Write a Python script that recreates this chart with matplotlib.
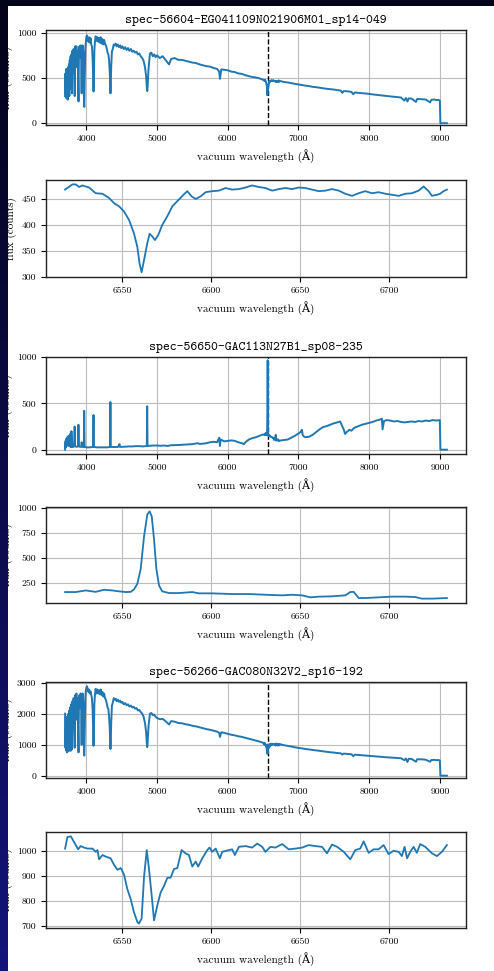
import numpy as np
import matplotlib
matplotlib.use('Agg')
import matplotlib.pyplot as plt

# ---------------- data ----------------
titles = ['spec-56604-EG041109N021906M01_sp14-049',
          'spec-56650-GAC113N27B1_sp08-235',
          'spec-56266-GAC080N32V2_sp16-192']
halpha = 6563.0

# shared wavelength grids for the two absorption-line stars (blue / red parts)
lam_blue = [3700, 3705, 3712, 3718, 3724, 3730, 3736, 3742, 3748, 3754, 3760, 3766, 3772, 3778, 3784,
            3790, 3797, 3804, 3812, 3820, 3828, 3836, 3844, 3852, 3860, 3868, 3876, 3884, 3890, 3896,
            3904, 3912, 3920, 3928, 3934, 3940, 3948, 3956, 3962, 3968, 3972, 3978, 3986, 3994, 4002,
            4010, 4020, 4030, 4040, 4050, 4060, 4070, 4080, 4090, 4096, 4102, 4108, 4114, 4122, 4132,
            4144, 4156, 4168, 4180, 4192, 4204, 4216, 4228, 4240, 4252, 4264, 4276, 4288, 4300, 4312,
            4322, 4332, 4338, 4342, 4346, 4352, 4362, 4374, 4388, 4402, 4416, 4430, 4446, 4462, 4478,
            4494, 4510, 4530, 4550, 4570, 4590, 4610, 4630, 4650, 4670, 4690, 4710, 4730, 4750, 4770,
            4790, 4810, 4830, 4846, 4856, 4862, 4868, 4880, 4900, 4920, 4940, 4960, 4980, 5000, 5040,
            5080, 5120, 5170, 5200, 5250, 5300, 5350, 5400, 5450, 5500, 5550, 5600, 5650, 5700, 5750,
            5800, 5850, 5880, 5890, 5896, 5910, 5950, 6000, 6050, 6100, 6150, 6200, 6250, 6300, 6350,
            6400, 6450, 6500]
lam_red = [6760, 6800, 6850, 6900, 6950, 7000, 7050, 7100, 7150, 7200, 7250, 7300, 7350, 7400, 7450,
           7500, 7550, 7600, 7620, 7640, 7700, 7750, 7775, 7800, 7850, 7900, 7950, 8000, 8050, 8100,
           8150, 8200, 8250, 8300, 8350, 8400, 8450, 8498, 8520, 8542, 8560, 8600, 8662, 8680, 8750,
           8800, 8862, 8880, 8920, 8950, 8980, 9000, 9008, 9050, 9100]

# star 1
flux1_blue = [300, 550, 280, 600, 320, 500, 260, 620, 350, 650, 300, 700, 380, 740, 400,
              760, 330, 800, 560, 820, 600, 300, 850, 700, 850, 620, 800, 500, 240, 780,
              850, 720, 860, 700, 330, 820, 860, 800, 700, 200, 180, 500, 820, 900, 960,
              970, 940, 900, 950, 890, 940, 870, 850, 700, 500, 350, 520, 800, 900, 960,
              910, 950, 900, 940, 890, 950, 880, 930, 870, 920, 880, 860, 830, 780, 760,
              700, 560, 400, 330, 420, 620, 790, 820, 870, 860, 880, 850, 870, 840, 860,
              830, 850, 820, 840, 810, 830, 800, 820, 790, 800, 780, 790, 760, 770, 740,
              720, 690, 620, 520, 400, 355, 420, 600, 770, 780, 740, 760, 730, 750, 720,
              740, 700, 650, 710, 720, 700, 700, 690, 680, 670, 665, 650, 640, 630, 625,
              610, 600, 570, 490, 520, 595, 590, 585, 570, 565, 550, 545, 530, 520, 510,
              505, 495, 480]
lam2 = [6517.8, 6521.9, 6523.8, 6525.7, 6527.5, 6531.3, 6535.0, 6538.8, 6542.5, 6545.3, 6548.1,
        6550.9, 6553.7, 6556.5, 6558.4, 6559.7, 6560.8, 6562.2, 6564.0, 6565.3, 6566.8, 6568.3,
        6570.2, 6572.4, 6575.3, 6578.1, 6581.8, 6584.6, 6586.5, 6588.9, 6591.2, 6594.0, 6596.8,
        6600.5, 6604.2, 6608.0, 6611.7, 6615.5, 6619.2, 6622.9, 6626.7, 6630.4, 6634.2, 6637.9,
        6641.7, 6645.4, 6649.1, 6652.9, 6656.6, 6660.4, 6664.1, 6667.8, 6671.6, 6675.3, 6679.1,
        6682.8, 6686.5, 6690.3, 6694.0, 6697.8, 6701.5, 6705.3, 6709.0, 6712.7, 6716.5, 6719.3,
        6722.1, 6724.0, 6726.8, 6728.6, 6730.5, 6732.4]
flux2 = [468, 478, 478, 473, 476, 472, 461, 460, 452, 442, 436,
         426, 410, 384, 358, 325, 309, 333, 365, 383, 378, 371,
         381, 400, 417, 436, 449, 459, 465, 455, 450, 455, 463,
         465, 466, 471, 468, 469, 472, 476, 473, 471, 466, 469,
         471, 469, 472, 471, 468, 465, 466, 469, 466, 460, 456,
         461, 465, 461, 463, 460, 458, 456, 460, 461, 466, 474,
         465, 456, 458, 460, 465, 468]
flux1_red = [462, 455, 450, 442, 435, 428, 422, 415, 410, 402, 398, 392, 386, 380, 376,
             372, 366, 360, 335, 355, 352, 346, 320, 340, 335, 332, 328, 324, 318, 314,
             310, 305, 300, 296, 292, 288, 284, 250, 278, 240, 274, 272, 235, 268, 265,
             262, 230, 258, 262, 255, 258, 250, 0, 0, 0]

# star 2 (emission-line object)
lam3_blue = [3700, 3703, 3706, 3709, 3712, 3715, 3718, 3721, 3724, 3727, 3730, 3734, 3738, 3742, 3746,
             3750, 3754, 3760, 3765, 3771, 3776, 3780, 3785, 3790, 3795, 3798, 3802, 3812, 3820, 3830,
             3835, 3840, 3860, 3884, 3889, 3895, 3910, 3930, 3934, 3940, 3960, 3966, 3970, 3976, 4000,
             4050, 4095, 4102, 4108, 4150, 4200, 4250, 4300, 4336, 4341, 4346, 4400, 4450, 4470, 4475,
             4550, 4600, 4650, 4700, 4750, 4800, 4856, 4861, 4866, 4900, 4950, 5000, 5050, 5100, 5150,
             5200, 5300, 5400, 5500, 5580, 5600, 5650, 5700, 5750, 5800, 5850, 5880, 5890, 5900, 5950,
             6000, 6050, 6100, 6150, 6200, 6230, 6250, 6300, 6350, 6400, 6450, 6500]
flux3_blue = [0, 80, 20, 100, 30, 110, 40, 120, 40, 130, 50, 135, 50, 140, 50,
              150, 40, 130, 40, 170, 30, 120, 30, 200, 30, 130, 30, 60, 30, 40,
              250, 40, 30, 35, 270, 40, 30, 35, 80, 30, 30, 35, 420, 30, 25,
              25, 30, 375, 30, 25, 25, 25, 25, 30, 515, 30, 28, 30, 60, 30,
              32, 35, 35, 38, 38, 35, 40, 470, 40, 42, 45, 45, 42, 45, 40,
              48, 50, 55, 60, 70, 62, 65, 70, 80, 85, 80, 130, 40, 110, 90,
              95, 100, 95, 80, 70, 60, 80, 110, 125, 135, 150, 165]
lam4 = [6517.8, 6523.8, 6529.4, 6535.0, 6539.7, 6544.4, 6548.1, 6551.9, 6554.7, 6556.5, 6558.4,
        6560.3, 6562.2, 6564.0, 6565.3, 6566.5, 6567.8, 6569.1, 6570.6, 6572.4, 6576.2, 6581.8,
        6589.3, 6593.0, 6600.5, 6611.7, 6621.1, 6630.4, 6639.8, 6645.4, 6651.0, 6655.7, 6660.4,
        6667.8, 6675.3, 6678.1, 6680.0, 6682.8, 6686.5, 6694.0, 6701.5, 6709.0, 6714.6, 6718.4,
        6724.0, 6732.4]
flux4 = [158, 158, 174, 160, 181, 174, 165, 158, 160, 184, 240,
         389, 719, 934, 967, 917, 686, 389, 224, 165, 148, 148,
         158, 145, 145, 138, 138, 131, 125, 131, 125, 105, 112,
         115, 125, 158, 160, 98, 98, 105, 112, 112, 108, 92,
         92, 98]
lam3_red = [6760, 6800, 6850, 6900, 6950, 7000, 7030, 7050, 7060, 7080, 7100, 7150, 7200, 7250, 7300,
            7350, 7400, 7450, 7500, 7550, 7590, 7610, 7640, 7660, 7680, 7700, 7720, 7750, 7780, 7800,
            7850, 7900, 7950, 8000, 8050, 8100, 8150, 8180, 8190, 8210, 8250, 8300, 8350, 8400, 8450,
            8500, 8550, 8600, 8650, 8700, 8750, 8800, 8850, 8900, 8950, 9000, 9008, 9050, 9100]
flux3_red = [100, 105, 110, 130, 150, 175, 190, 215, 160, 140, 135, 140, 160, 190, 220,
             245, 255, 270, 285, 295, 305, 270, 220, 170, 190, 200, 215, 205, 230, 240,
             255, 270, 280, 290, 300, 315, 325, 335, 220, 310, 320, 315, 305, 310, 300,
             295, 300, 305, 300, 310, 305, 315, 310, 320, 315, 320, 0, 0, 0]

# star 3
flux5_blue = [2000, 900, 1900, 800, 1800, 750, 1700, 900, 2000, 800, 2100, 1000, 2200, 800, 2300,
              1100, 850, 2400, 1500, 2500, 1600, 900, 2600, 2000, 2650, 1800, 2500, 1500, 750, 2400,
              2600, 2200, 2650, 2100, 1000, 2500, 2650, 2400, 2000, 700, 650, 1500, 2500, 2750, 2850,
              2880, 2800, 2700, 2780, 2650, 2720, 2600, 2500, 2100, 1500, 960, 1500, 2300, 2600, 2800,
              2650, 2780, 2650, 2750, 2620, 2780, 2600, 2700, 2550, 2650, 2500, 2450, 2350, 2200, 2150,
              1900, 1500, 1100, 860, 1100, 1700, 2250, 2350, 2500, 2450, 2480, 2400, 2450, 2380, 2420,
              2350, 2380, 2300, 2340, 2270, 2300, 2230, 2260, 2200, 2220, 2160, 2180, 2100, 2120, 2050,
              2000, 1900, 1700, 1400, 1050, 920, 1100, 1600, 2000, 2020, 1950, 1970, 1900, 1860, 1820,
              1830, 1760, 1650, 1760, 1740, 1700, 1690, 1660, 1640, 1610, 1590, 1560, 1530, 1500, 1480,
              1450, 1420, 1380, 1250, 1300, 1400, 1380, 1350, 1320, 1300, 1270, 1250, 1220, 1190, 1160,
              1130, 1100, 1060]
lam6 = [6517.8, 6519.1, 6521.0, 6522.3, 6523.8, 6525.1, 6526.6, 6528.5, 6530.4, 6533.2, 6535.0,
        6536.0, 6536.9, 6538.8, 6540.6, 6543.4, 6545.3, 6547.2, 6549.1, 6550.9, 6552.8, 6554.7,
        6556.5, 6558.4, 6559.3, 6560.8, 6562.2, 6563.7, 6565.0, 6566.5, 6567.8, 6569.6, 6571.5,
        6573.4, 6575.3, 6577.1, 6579.0, 6580.9, 6583.3, 6585.5, 6587.4, 6589.3, 6591.2, 6592.6,
        6594.9, 6597.7, 6599.0, 6600.5, 6602.4, 6604.8, 6606.1, 6609.9, 6611.7, 6613.2, 6615.5,
        6619.2, 6622.9, 6625.8, 6628.6, 6630.4, 6633.2, 6636.0, 6639.8, 6643.5, 6647.3, 6651.0,
        6654.7, 6658.5, 6662.2, 6665.0, 6667.8, 6670.7, 6674.4, 6678.1, 6680.9, 6683.7, 6685.6,
        6688.4, 6691.2, 6694.0, 6696.8, 6699.6, 6702.4, 6705.3, 6707.1, 6708.6, 6710.0, 6711.8,
        6713.7, 6715.5, 6717.4, 6720.2, 6724.0, 6726.8, 6729.6, 6732.4]
flux6 = [1010, 1056, 1059, 1043, 1024, 1007, 1020, 1014, 1010, 1010, 997,
         1004, 967, 984, 978, 971, 945, 925, 932, 906, 847, 807,
         755, 716, 709, 729, 899, 1004, 925, 820, 722, 781, 834,
         860, 893, 893, 928, 932, 1004, 991, 984, 938, 958, 938,
         971, 1004, 1014, 997, 1010, 971, 997, 1004, 1007, 984, 1017,
         1020, 1014, 1030, 1017, 997, 1017, 1014, 1028, 1007, 1010, 1014,
         1024, 1020, 1017, 991, 1026, 1017, 997, 967, 1004, 1010, 1039,
         993, 1007, 1007, 1024, 988, 1001, 997, 980, 1017, 971, 997,
         1017, 993, 1028, 1017, 991, 980, 997, 1024]
flux5_red = [1000, 980, 960, 940, 915, 895, 880, 860, 845, 830, 815, 800, 785, 770, 755,
             745, 730, 720, 680, 712, 700, 690, 630, 678, 668, 658, 650, 640, 630, 620,
             612, 600, 592, 585, 578, 570, 562, 500, 552, 440, 545, 540, 450, 530, 525,
             515, 450, 505, 510, 500, 505, 490, 0, 0, 0]

full_xticks = [4000, 5000, 6000, 7000, 8000, 9000]
zoom_xticks = [6550, 6600, 6650, 6700]
yticks = [[0, 500, 1000], [300, 350, 400, 450],
          [0, 500, 1000], [250, 500, 750, 1000],
          [0, 1000, 2000, 3000], [700, 800, 900, 1000]]

# ---------------- figure ----------------
plt.rcParams['font.family'] = ['cmr10', 'DejaVu Serif']
plt.rcParams['axes.formatter.use_mathtext'] = True
plt.rcParams['mathtext.fontset'] = 'cm'

W, H = 494, 971
fig = plt.figure(figsize=(W / 100, H / 100), dpi=100, facecolor='white')

boxes = [(30, 125), (180, 277), (357, 454), (507, 603), (682, 778), (832, 928)]
ylims = [(-20, 1030), None, (-47, 1003), None, (-75, 3020), None]

full_data = [
    (lam_blue + lam2 + lam_red, flux1_blue + flux2 + flux1_red),
    (lam3_blue + lam4 + lam3_red, flux3_blue + flux4 + flux3_red),
    (lam_blue + lam6 + lam_red, flux5_blue + flux6 + flux5_red),
]
zoom_data = [(lam2, flux2), (lam4, flux4), (lam6, flux6)]

blue = '#1f77b4'
for i, (top, bot) in enumerate(boxes):
    ax = fig.add_axes([46 / W, 1 - bot / H, 420 / W, (bot - top) / H])
    k = i // 2
    if i % 2 == 0:
        x, y = full_data[k]
        ax.axvline(halpha, color='k', ls='--', lw=1.0, zorder=1.5)
        ax.plot(x, y, color=blue, lw=1.4, zorder=2)
        ax.set_xticks(full_xticks)
        ax.set_xticklabels([str(t) for t in full_xticks])
        ax.set_title(titles[k], fontsize=9.5, family=['cmtt10', 'DejaVu Sans Mono'], pad=5)
    else:
        x, y = zoom_data[k]
        ax.plot(x, y, color=blue, lw=1.3, zorder=2)
        ax.set_xticks(zoom_xticks)
        ax.set_xticklabels([str(t) for t in zoom_xticks])
    if ylims[i] is not None:
        ax.set_ylim(*ylims[i])
    ax.set_yticks(yticks[i])
    ax.set_yticklabels([str(t) for t in yticks[i]])
    ax.grid(True, color='#bcbcbc', lw=0.8)
    ax.set_axisbelow(True)
    ax.tick_params(labelsize=7, length=3.5, width=0.8, direction='out')
    for s in ax.spines.values():
        s.set_linewidth(1.0)
        s.set_color('#222222')
    ax.set_xlabel('vacuum wavelength (Å)', fontsize=8, labelpad=4)
    ax.set_ylabel('flux (counts)', fontsize=8, labelpad=3)

# dark frame strips (left gradient, top band)
gax = fig.add_axes([0, 0, 7 / W, 1], zorder=20)
grad = np.linspace(0, 1, 256)[:, None]
c0 = np.array([3, 3, 25]) / 255.0
c1 = np.array([20, 20, 122]) / 255.0
img = c0[None, None, :] * (1 - grad[:, :, None]) + c1[None, None, :] * grad[:, :, None]
gax.imshow(img, aspect='auto', extent=[0, 1, 0, 1], origin='upper')
gax.set_axis_off()
tax = fig.add_axes([0, 1 - 6 / H, 1, 6 / H], zorder=21)
tax.set_facecolor('#03031a')
tax.set_xticks([]); tax.set_yticks([])
for s in tax.spines.values():
    s.set_visible(False)

fig.savefig('out.png', dpi=100, facecolor='white')
